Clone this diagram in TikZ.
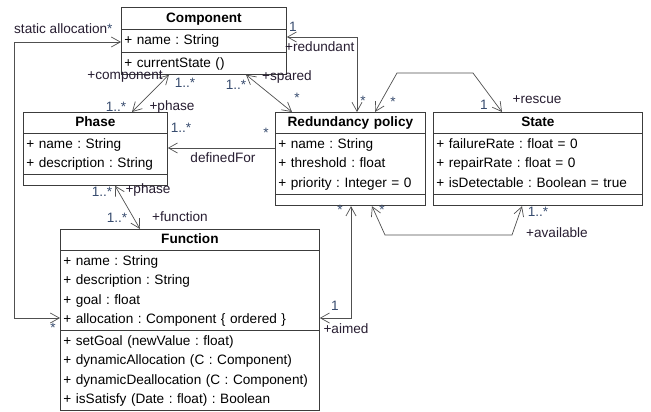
\documentclass[tikz,border=0pt]{standalone}
\usepackage{fontspec}
\setmainfont{Liberation Sans}
\usetikzlibrary{arrows.meta, calc, shapes.multipart}
\definecolor{boxline}{RGB}{60,60,60}
\definecolor{assocline}{RGB}{80,80,80}
\definecolor{multtext}{RGB}{55,75,110}
\definecolor{roletext}{RGB}{40,30,50}
\newcommand{\attr}[1]{\strut+ #1}
\newcommand{\classname}[1]{\makebox[\linewidth]{\strut\textbf{#1}}}

\begin{document}
\frenchspacing
\begin{tikzpicture}[
  x=1pt, y=-1pt,
  >={Straight Barb[length=9pt,width=10pt]},
  every node/.style={font=\fontsize{13.6}{19.5}\selectfont},
  umlclass/.style={draw=boxline, line width=0.8pt, fill=white, rectangle split, rectangle split parts=3,
    anchor=north west, inner xsep=3pt, inner ysep=0.5pt, align=left},
  role/.style={text=roletext, inner sep=0pt},
  mult/.style={text=multtext, inner sep=0pt},
  assoc/.style={<->, draw=assocline, line width=0.7pt}
]
\path[use as bounding box, fill=white] (0,0) rectangle (651,412);

% Classes
\node[umlclass, text width=159pt, inner ysep=1pt] (comp) at (121,7)
  {\classname{Component}
   \nodepart{two}\attr{name : String}
   \nodepart{three}\attr{currentState ()}};
\node[umlclass, text width=138pt] (phase) at (23,112)
  {\classname{Phase}
   \nodepart{two}\attr{name : String}\\ \attr{description : String}
   \nodepart{three}\rule{0pt}{9pt}};
\node[umlclass, text width=144pt] (red) at (275,112)
  {\classname{Redundancy policy}
   \nodepart{two}\attr{name : String}\\ \attr{threshold : float}\\ \attr{priority : Integer = 0}
   \nodepart{three}\rule{0pt}{10pt}};
\node[umlclass, text width=203pt] (state) at (433,112)
  {\classname{State}
   \nodepart{two}\attr{failureRate : float = 0}\\ \attr{repairRate : float = 0}\\ \attr{isDetectable : Boolean = true}
   \nodepart{three}\rule{0pt}{10pt}};
\node[umlclass, text width=253pt] (fun) at (60,229)
  {\classname{Function}
   \nodepart{two}\attr{name : String}\\ \attr{description : String}\\ \attr{goal : float}\\ \attr{allocation : Component \{ ordered \}}
   \nodepart{three}\attr{setGoal (newValue : float)}\\ \attr{dynamicAllocation (C : Component)}\\ \attr{dynamicDeallocation (C : Component)}\\ \attr{isSatisfy (Date : float) : Boolean}};

% Associations
\draw[assoc] ($(comp.north west)+(0,35)$) -| (14,318) -- ($(fun.north west)+(0,89)$);
\draw[assoc] ($(comp.south west)+(48,0)$) -- ($(phase.north west)+(109,0)$);
\draw[assoc] ($(comp.south west)+(125,0)$) -- ($(red.north west)+(17,0)$);
\draw[assoc] ($(comp.north east)+(0,30)$) -| ($(red.north west)+(82,0)$);
\draw[assoc] ($(red.north west)+(100,0)$) -- (397,73) -- (473,73) -- ($(state.north west)+(69,0)$);
\draw[->, draw=assocline, line width=0.7pt] ($(red.north west)+(0,36)$) -- ($(phase.north east)+(0,36)$);
\draw[assoc] ($(phase.south west)+(92,0)$) -- ($(fun.north west)+(80,0)$);
\draw[assoc] ($(fun.north east)+(0,89)$) -| ($(red.south west)+(76,0)$);
\draw[assoc] ($(red.south west)+(97,0)$) -- (385,235) -- (512,235) -- ($(state.south west)+(89,0)$);

% Roles and multiplicities
\node[role, anchor=west] (rstatic) at (14,29) {static allocation\textcolor{multtext}{*}};
\node[mult] (mstaticfun) at (53,328) {*};
\node[role] (rcomponent) at (125,77) {+component};
\node[mult] (mcompphase) at (185,83) {1..*};
\node[mult] (mphasecomp) at (116,107) {1..*};
\node[role] (rphasetop) at (172,107) {+phase};
\node[mult] (mcompspared) at (236,85) {1..*};
\node[role] (rspared) at (287,77) {+spared};
\node[mult] (mredspared) at (297,98) {*};
\node[mult] (mcompred) at (293,27) {1};
\node[role, anchor=west] (rredundant) at (285,47) {+redundant};
\node[mult] (mredred) at (363,101) {*};
\node[mult] (mredrescue) at (393,102) {*};
\node[mult] (mstaterescue) at (484,105) {1};
\node[role] (rrescue) at (537,100) {+rescue};
\node[mult] (mphasedef) at (181,128) {1..*};
\node[mult] (mreddef) at (266,133) {*};
\node[role] (rdefined) at (223,158) {definedFor};
\node[mult] (mphasefun) at (102,192) {1..*};
\node[role] (rphasebot) at (148,190) {+phase};
\node[mult] (mfunphase) at (117,218) {1..*};
\node[role] (rfunction) at (180,217) {+function};
\node[mult] (mfunaimed) at (335,306) {1};
\node[role] (raimed) at (346,329) {+aimed};
\node[mult] (mredaimed) at (340,210) {*};
\node[mult] (mredavail) at (382,210) {*};
\node[mult] (mstateavail) at (538,212) {1..*};
\node[role] (ravail) at (557,233) {+available};

\end{tikzpicture}
\end{document}
